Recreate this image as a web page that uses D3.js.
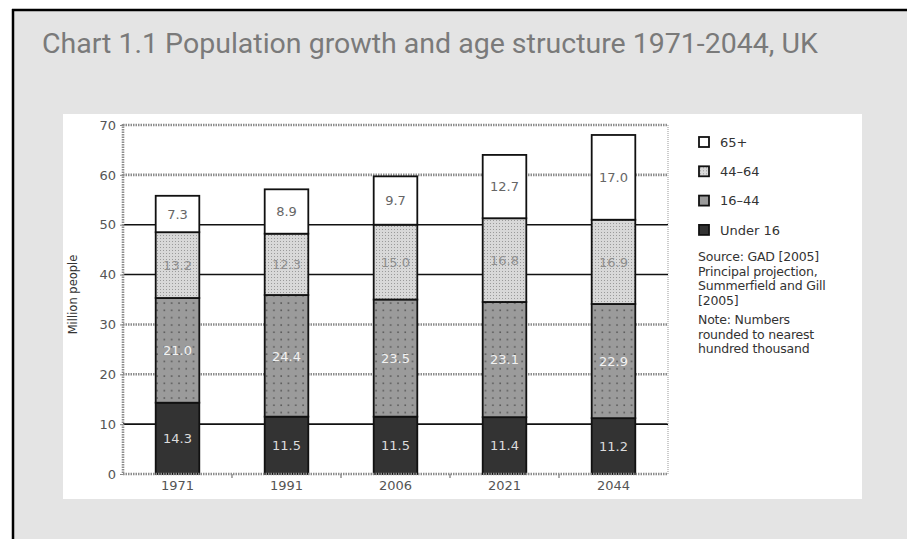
<!DOCTYPE html>
<html>
<head>
<meta charset="utf-8">
<script src="https://cdn.jsdelivr.net/npm/d3@7"></script>
<style>
  html, body { margin: 0; padding: 0; background: #fff; }
  svg { display: block; }
</style>
</head>
<body>
<svg id="chart" width="907" height="539"></svg>
<script>
// Population by age band, millions
const years = ["1971", "1991", "2006", "2021", "2044"];
const under16 = [14.3, 11.5, 11.5, 11.4, 11.2];
const age16to44 = [21.0, 24.4, 23.5, 23.1, 22.9];
const age44to64 = [13.2, 12.3, 15.0, 16.8, 16.9];
const age65plus = [7.3, 8.9, 9.7, 12.7, 17.0];
const seriesNames = ["Under 16", "16–44", "44–64", "65+"];
const yTicks = [0, 10, 20, 30, 40, 50, 60, 70];
const sourceLines = ["Source: GAD [2005]", "Principal projection,", "Summerfield and Gill", "[2005]"];
const noteLines = ["Note: Numbers", "rounded to nearest", "hundred thousand"];

const svg = d3.select("#chart");
const W = 907, H = 539;

// page panel
svg.append("rect").attr("x", 0).attr("y", 0).attr("width", W).attr("height", H).attr("fill", "#fff");
svg.append("rect").attr("x", 13).attr("y", 10).attr("width", W - 13).attr("height", H - 10).attr("fill", "#e4e4e4");
svg.append("line").attr("x1", 12).attr("x2", W).attr("y1", 10).attr("y2", 10).attr("stroke", "#000").attr("stroke-width", 2.5);
svg.append("line").attr("x1", 13).attr("x2", 13).attr("y1", 9).attr("y2", H).attr("stroke", "#000").attr("stroke-width", 2.5);

svg.append("text")
  .attr("x", 42).attr("y", 53)
  .attr("font-family", "Roboto, 'Open Sans', sans-serif")
  .attr("font-size", 28.5)
  .attr("fill", "#7a7a7a")
  .text("Chart 1.1 Population growth and age structure 1971-2044, UK");

// white chart card
svg.append("rect").attr("x", 63).attr("y", 114).attr("width", 799).attr("height", 385).attr("fill", "#fff");

// fill patterns
const defs = svg.append("defs");
const p1 = defs.append("pattern").attr("id", "pat1644").attr("patternUnits", "userSpaceOnUse")
  .attr("width", 7.3).attr("height", 7.3);
p1.append("rect").attr("width", 7.3).attr("height", 7.3).attr("fill", "#9b9b9b");
p1.append("rect").attr("x", 3).attr("y", 3).attr("width", 1.6).attr("height", 1.6).attr("fill", "#5a5a5a");

const p2 = defs.append("pattern").attr("id", "pat4464").attr("patternUnits", "userSpaceOnUse")
  .attr("width", 3).attr("height", 3);
p2.append("rect").attr("width", 3).attr("height", 3).attr("fill", "#d8d8d8");
p2.append("rect").attr("x", 1).attr("y", 1).attr("width", 1).attr("height", 1).attr("fill", "#9a9a9a");

const segFill = ["#333333", "url(#pat1644)", "url(#pat4464)", "#ffffff"];
const legendFill = ["#333333", "#9b9b9b", "url(#pat4464)", "#ffffff"];
const segText = ["#dcdcdc", "#f2f2f2", "#8f8f8f", "#666666"];

const m = { left: 123, right: 668, top: 125, bottom: 474 };
const x = d3.scaleBand().domain(years).range([m.left, m.right]).paddingInner(0.6).paddingOuter(0.3);
const y = d3.scaleLinear().domain([0, 70]).range([m.bottom, m.top]);

const rows = years.map((yr, i) => ({
  year: yr,
  "Under 16": under16[i], "16–44": age16to44[i], "44–64": age44to64[i], "65+": age65plus[i]
}));
const stacked = d3.stack().keys(seriesNames)(rows);

const labelFont = "'DejaVu Sans', sans-serif";

// gridlines
const solidGrid = [10, 40, 50];
const g = svg.append("g");
g.selectAll("line.grid").data(yTicks.filter(t => t > 0)).join("line")
  .attr("x1", m.left).attr("x2", m.right)
  .attr("y1", d => y(d)).attr("y2", d => y(d))
  .attr("stroke", d => solidGrid.includes(d) ? "#111" : "#8c8c8c")
  .attr("stroke-width", d => solidGrid.includes(d) ? 1.6 : 2.6)
  .attr("stroke-dasharray", d => solidGrid.includes(d) ? null : "1.5 1");

// right frame
g.append("line").attr("x1", m.right).attr("x2", m.right).attr("y1", m.top).attr("y2", m.bottom)
  .attr("stroke", "#aaa").attr("stroke-width", 1.2).attr("stroke-dasharray", "1 1");

// bars
stacked.forEach((layer, k) => {
  const grp = svg.append("g");
  grp.selectAll("rect").data(layer).join("rect")
    .attr("x", d => x(d.data.year))
    .attr("width", x.bandwidth())
    .attr("y", d => y(d[1]))
    .attr("height", d => y(d[0]) - y(d[1]))
    .attr("fill", segFill[k])
    .attr("stroke", "#111").attr("stroke-width", 1.8);
  grp.selectAll("text").data(layer).join("text")
    .attr("x", d => x(d.data.year) + x.bandwidth() / 2)
    .attr("y", d => (y(d[0]) + y(d[1])) / 2)
    .attr("dy", "0.36em")
    .attr("text-anchor", "middle")
    .attr("font-family", labelFont).attr("font-size", 13)
    .attr("fill", segText[k])
    .text(d => (d[1] - d[0]).toFixed(1));
});

// axes
const yAxis = svg.append("g").attr("transform", `translate(${m.left},0)`)
  .call(d3.axisLeft(y).tickValues(yTicks).tickSize(3).tickPadding(4));
yAxis.select(".domain").remove();
yAxis.selectAll("text").attr("font-family", labelFont).attr("font-size", 13).attr("fill", "#555");
yAxis.selectAll("line").attr("stroke", "#888");

const xAxis = svg.append("g").attr("transform", `translate(0,${m.bottom})`)
  .call(d3.axisBottom(x).tickSize(0).tickPadding(7));
xAxis.select(".domain").remove();
xAxis.selectAll("text").attr("font-family", labelFont).attr("font-size", 13).attr("fill", "#555");

// tick marks between categories
const bounds = years.slice(1).map(yr => x(yr) - x.step() * x.paddingInner() / 2);
svg.append("g").selectAll("line").data(bounds).join("line")
  .attr("x1", d => d).attr("x2", d => d).attr("y1", m.bottom).attr("y2", m.bottom + 4)
  .attr("stroke", "#777").attr("stroke-width", 1.2);

// hatched axis lines
svg.append("line").attr("x1", m.left).attr("x2", m.left).attr("y1", m.top - 1).attr("y2", m.bottom + 1)
  .attr("stroke", "#8c8c8c").attr("stroke-width", 2.6).attr("stroke-dasharray", "1.5 1");
svg.append("line").attr("x1", m.left).attr("x2", m.right).attr("y1", m.bottom).attr("y2", m.bottom)
  .attr("stroke", "#8c8c8c").attr("stroke-width", 2.6).attr("stroke-dasharray", "1.5 1");

// y-axis title
svg.append("text")
  .attr("transform", `translate(77,${(m.top + m.bottom) / 2 - 5}) rotate(-90)`)
  .attr("text-anchor", "middle")
  .attr("font-family", labelFont).attr("font-size", 11.5).attr("fill", "#333")
  .text("Million people");

// legend
const legendOrder = [3, 2, 1, 0];
const leg = svg.append("g").attr("transform", "translate(699,137)");
legendOrder.forEach((k, i) => {
  const row = leg.append("g").attr("transform", `translate(0,${i * 29.3})`);
  row.append("rect").attr("width", 10).attr("height", 10)
    .attr("fill", legendFill[k]).attr("stroke", "#111").attr("stroke-width", 1.8);
  row.append("text").attr("x", 21).attr("y", 5).attr("dy", "0.36em")
    .attr("font-family", labelFont).attr("font-size", 13).attr("fill", "#333")
    .text(seriesNames[k]);
});

// source and note block
const notes = svg.append("g").attr("font-family", labelFont).attr("font-size", 12.5)
  .attr("fill", "#333").attr("letter-spacing", -0.2);
notes.selectAll("text.src").data(sourceLines).join("text").attr("class", "src")
  .attr("x", 698).attr("y", (d, i) => 261 + i * 14.5).text(d => d);
notes.selectAll("text.note").data(noteLines).join("text").attr("class", "note")
  .attr("x", 698).attr("y", (d, i) => 324 + i * 14.5).text(d => d);
</script>
</body>
</html>
